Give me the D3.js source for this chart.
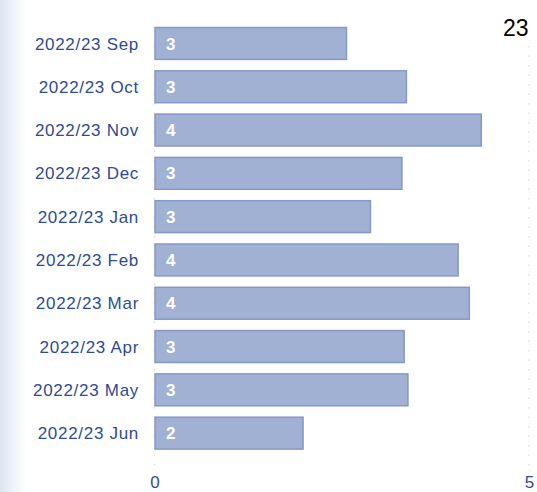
<!DOCTYPE html>
<html>
<head>
<meta charset="utf-8">
<script src="https://cdn.jsdelivr.net/npm/d3@7"></script>
<style>
  body { margin: 0; background: #fff; }
  svg { display: block; font-family: "Liberation Sans", Arial, sans-serif; }
</style>
</head>
<body>
<div id="chart"></div>
<script>
// data
var months = ["2022/23 Sep", "2022/23 Oct", "2022/23 Nov", "2022/23 Dec", "2022/23 Jan",
              "2022/23 Feb", "2022/23 Mar", "2022/23 Apr", "2022/23 May", "2022/23 Jun"];
var values = [2.57, 3.37, 4.37, 3.31, 2.89, 4.06, 4.21, 3.34, 3.39, 1.99];
var xTicks = [0, 5];
var cornerText = "23";

var width = 537, height = 492;
var margin = { top: 22, right: 8, bottom: 37, left: 155 };

var svg = d3.select("#chart").append("svg")
  .attr("width", width)
  .attr("height", height);

// faded strip on the left edge
var defs = svg.append("defs");
var grad = defs.append("linearGradient").attr("id", "edge").attr("x1", 0).attr("x2", 1);
grad.append("stop").attr("offset", 0).attr("stop-color", "#dde4f1");
grad.append("stop").attr("offset", 0.2).attr("stop-color", "#e4e9f4");
grad.append("stop").attr("offset", 1).attr("stop-color", "#ffffff");
svg.append("rect").attr("x", 0).attr("y", 0).attr("width", 26).attr("height", height)
  .attr("fill", "url(#edge)");

var x = d3.scaleLinear().domain([0, 5]).range([margin.left - 0.5, 529]);
var y = d3.scaleBand().domain(months)
  .range([margin.top - 0.2, height - margin.bottom - 0.2])
  .paddingInner(0.24).paddingOuter(0.12);

// dotted grid lines
svg.append("g").selectAll("line")
  .data(xTicks)
  .enter().append("line")
  .attr("x1", function(d) { return x(d); })
  .attr("x2", function(d) { return x(d); })
  .attr("y1", 46)
  .attr("y2", 470)
  .attr("stroke", "#d3d7df")
  .attr("stroke-width", 1.2)
  .attr("stroke-dasharray", "1.5,8");

// bars
var bar = svg.append("g").selectAll(".bar")
  .data(values)
  .enter().append("g")
  .attr("class", "bar")
  .attr("transform", function(d, i) { return "translate(0," + y(months[i]) + ")"; });

bar.append("rect")
  .attr("x", x(0) + 0.5)
  .attr("y", 0.5)
  .attr("width", function(d) { return x(d) - x(0) - 1; })
  .attr("height", y.bandwidth() - 1)
  .attr("fill", "#a0b1d3")
  .attr("stroke", "#8698c6")
  .attr("stroke-width", 1.5);

bar.append("text")
  .attr("x", x(0) + 11.5)
  .attr("y", y.bandwidth() / 2)
  .attr("dy", ".36em")
  .attr("fill", "#ffffff")
  .attr("font-size", "17px")
  .attr("font-weight", "bold")
  .text(function(d) { return Math.round(d); });

// category labels
svg.append("g").selectAll("text")
  .data(months)
  .enter().append("text")
  .attr("x", 139)
  .attr("y", function(d) { return y(d) + y.bandwidth() / 2; })
  .attr("dy", ".36em")
  .attr("text-anchor", "end")
  .attr("fill", "#2d4b9b")
  .attr("font-size", "17px")
  .attr("letter-spacing", "0.7px")
  .text(function(d) { return d; });

// x axis labels
var xAxis = d3.axisBottom(x).tickValues(xTicks).tickFormat(d3.format("d")).tickSize(0).tickPadding(0);
var gx = svg.append("g")
  .attr("transform", "translate(0," + 488 + ")")
  .call(xAxis);
gx.select(".domain").remove();
gx.selectAll("text")
  .attr("dy", "0")
  .attr("y", 0)
  .attr("fill", "#2d4b9b")
  .attr("font-size", "17px")
  .attr("font-family", "Liberation Sans, Arial, sans-serif");

// number cut off at the top right
svg.append("text")
  .attr("x", 503)
  .attr("y", 36)
  .attr("fill", "#000")
  .attr("font-size", "23px")
  .text(cornerText);
</script>
</body>
</html>
